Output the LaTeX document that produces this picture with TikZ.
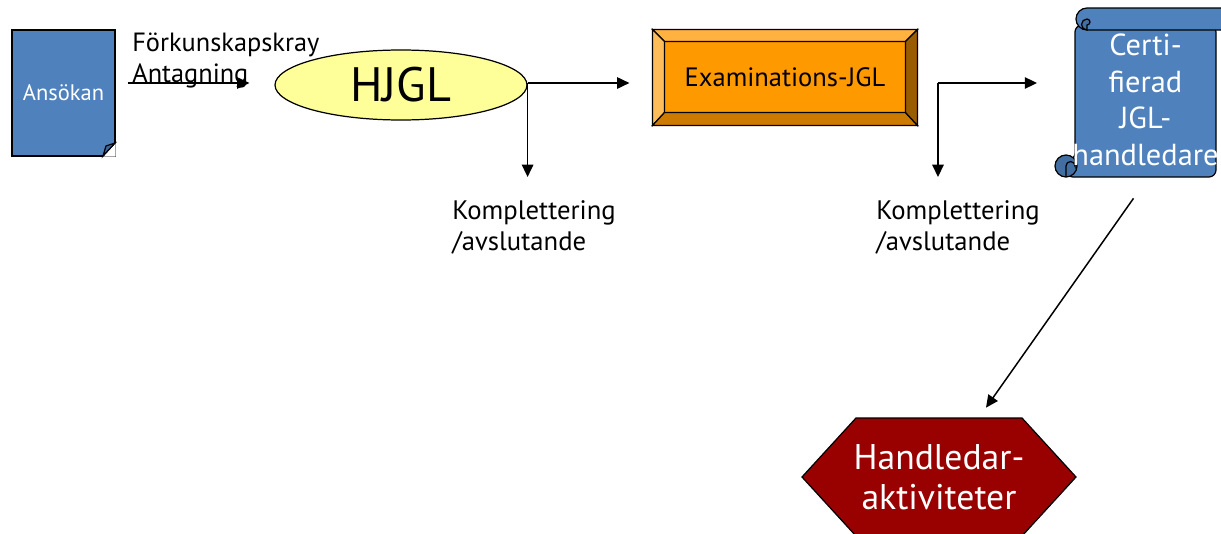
\documentclass[tikz,border=0pt]{standalone}
\usepackage{fontspec}
\setmainfont{PT Sans}
\usepackage{tikz}
\usetikzlibrary{positioning,arrows.meta,shapes.geometric,calc}
\usepackage{xcolor}
\definecolor{docblue}{HTML}{4F81BD}
\definecolor{hjglyellow}{HTML}{FFFF99}
\definecolor{examorange}{HTML}{FF9900}
\definecolor{darkred}{HTML}{990000}

\begin{document}
\begin{tikzpicture}[
    x=0.02cm, y=-0.02cm,
    docBox/.style={rectangle, draw=black, fill=docblue, line width=0.7pt, text=white, font=\fontsize{12.8}{15}\selectfont, minimum width=2.06cm, minimum height=2.52cm, inner sep=0pt},
    hjglEllipse/.style={ellipse, draw=black, fill=hjglyellow, line width=0.7pt, font=\fontsize{27.5}{32}\selectfont, minimum width=5.04cm, minimum height=1.4cm, inner sep=0pt},
    examBox/.style={rectangle, draw=black, fill=examorange, line width=0.7pt, font=\fontsize{15.1}{18}\selectfont, minimum width=5.28cm, minimum height=1.9cm, inner sep=0pt},
    bevel/.style={draw=black, line width=0.7pt},
    certText/.style={rectangle, text=white, align=center, font=\fontsize{17.3}{20.8}\selectfont, minimum width=2.82cm, minimum height=3.08cm, inner sep=0pt},
    scrollPart/.style={draw=black, fill=docblue, line width=0.7pt},
    hexText/.style={rectangle, text=white, align=center, font=\fontsize{20.3}{22.7}\selectfont, minimum width=5.48cm, minimum height=2.36cm, inner sep=0pt},
    noteText/.style={anchor=north west, align=left, inner sep=0pt, font=\fontsize{15.2}{17.6}\selectfont},
    flowArrow/.style={draw=black, line width=0.85pt, -{Triangle[length=7pt, width=6.5pt]}}
]
    \clip (0,0) rectangle (1221,534);

    % application sheet with a folded corner
    \node[docBox] (ansokan) at (63.5,93) {Ansökan};
    \fill[white] (103,156.6) -- (115.6,156.6) -- (115.6,143) -- cycle;
    \draw[line width=0.7pt] (103,156) -- (115,143);
    \filldraw[fill=docblue!80!black, line width=0.7pt] (103,156) -- (106,146) -- (115,143) -- cycle;

    \node[noteText, font=\fontsize{15}{17.6}\selectfont] (krav) at (132,33) {Förkunskapskray\\Antagning};

    \node[hjglEllipse] (hjgl) at (401,85) {HJGL};

    % bevelled button
    \node[examBox] (exam) at (785,77.5) {Examinations-JGL};
    \filldraw[bevel, fill=examorange!75!white] (exam.north west) -- (exam.north east) -- ([shift={(-12,12)}]exam.north east) -- ([shift={(12,12)}]exam.north west) -- cycle;
    \filldraw[bevel, fill=examorange!65!white] (exam.north west) -- ([shift={(12,12)}]exam.north west) -- ([shift={(12,-13)}]exam.south west) -- (exam.south west) -- cycle;
    \filldraw[bevel, fill=examorange!80!black] (exam.south west) -- ([shift={(12,-13)}]exam.south west) -- ([shift={(-12,-13)}]exam.south east) -- (exam.south east) -- cycle;
    \filldraw[bevel, fill=examorange!60!black] (exam.south east) -- ([shift={(-12,-13)}]exam.south east) -- ([shift={(-12,12)}]exam.north east) -- (exam.north east) -- cycle;

    % scroll
    \filldraw[scrollPart, rounded corners=4pt] (1075,25) -- (1216,25) -- (1216,177) -- (1066,177) -- (1066,160) -- (1075,160) -- cycle;
    \filldraw[scrollPart, fill=docblue!85!black] (1066,166) circle[radius=11];
    \draw[line width=0.7pt] (1066,177) -- (1066,166) arc[start angle=180, end angle=360, radius=4.5] -- (1075,160);
    \filldraw[scrollPart] (1087,30) arc[start angle=90, end angle=270, radius=11] -- (1230,8) -- (1230,30) -- cycle;
    \filldraw[scrollPart, fill=docblue!85!black] (1087,30) arc[start angle=90, end angle=270, radius=5.5] arc[start angle=270, end angle=450, radius=3] -- cycle;
    \node[certText] (cert) at (1145.5,100) {Certi-\\fierad\\JGL-\\handledare};

    % hexagon
    \filldraw[draw=black, fill=darkred, line width=0.7pt] (802,477) -- (856,418) -- (1022,418) -- (1076,477) -- (1022,536) -- (856,536) -- cycle;
    \node[hexText] (hex) at (939,477) {Handledar-\\aktiviteter};

    \node[noteText] (komp1) at (452,200) {Komplettering\\/avslutande};
    \node[noteText] (komp2) at (876,200) {Komplettering\\/avslutande};

    \coordinate (split2) at (938,83);

    \draw[flowArrow] ([shift={(12,-10)}]ansokan.east) -- ([shift={(-25,-2)}]hjgl.west);
    \draw[flowArrow, shorten >=0.46cm] ([yshift=0.04cm]hjgl.east) -- ([yshift=0.04cm]hjgl.east -| exam.west);
    \draw[flowArrow, shorten >=0.46cm] ([yshift=0.04cm]hjgl.east) -- (hjgl.east |- komp1.north);
    \draw[flowArrow, shorten >=0.7cm] (split2) -- (split2 -| cert.west);
    \draw[flowArrow, shorten >=0.46cm] (split2) -- (split2 |- komp2.north);
    \draw[flowArrow] ([shift={(-12,21)}]cert.south) -- ([shift={(47,-10)}]hex.north);
\end{tikzpicture}
\end{document}
